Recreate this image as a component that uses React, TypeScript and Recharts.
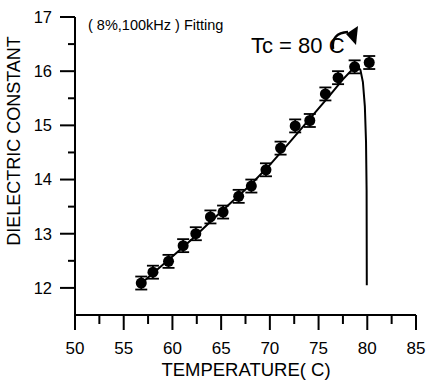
import {
  ComposedChart, Scatter, XAxis, YAxis, ErrorBar,
} from 'recharts';

const temps = [56.8, 58.0, 59.6, 61.1, 62.4, 63.9, 65.2, 66.8, 68.1, 69.6, 71.1, 72.6, 74.1, 75.7, 77.0, 78.7, 80.2];
const values = [12.09, 12.29, 12.49, 12.78, 13.0, 13.31, 13.4, 13.69, 13.88, 14.18, 14.58, 14.99, 15.09, 15.58, 15.88, 16.08, 16.16];
const errors = [0.12, 0.12, 0.12, 0.12, 0.12, 0.12, 0.12, 0.12, 0.12, 0.12, 0.12, 0.12, 0.12, 0.12, 0.12, 0.12, 0.12];

const fitTemps = [56.8, 58, 60, 62, 64, 66, 68, 70, 72, 74, 76, 77.5, 78.5, 79.0, 79.3, 79.55, 79.75, 79.87, 79.93, 79.95];
const fitValues = [12.08, 12.27, 12.58, 12.9, 13.24, 13.57, 13.9, 14.27, 14.68, 15.1, 15.52, 15.85, 16.04, 16.1, 16.02, 15.8, 15.35, 14.7, 13.8, 12.05];

const xTicks = [50, 52.5, 55, 57.5, 60, 62.5, 65, 67.5, 70, 72.5, 75, 77.5, 80, 82.5, 85];
const yTicks = [12, 12.5, 13, 13.5, 14, 14.5, 15, 15.5, 16, 16.5, 17];

const FONT = '"Liberation Sans", Arial, sans-serif';

const points = temps.map((t, i) => ({ t, v: values[i], err: errors[i] }));
const fit = fitTemps.map((t, i) => ({ t, v: fitValues[i] }));

function XTick({ x, y, payload }: any) {
  const major = payload.value % 5 === 0;
  return (
    <g>
      <line x1={x} x2={x} y1={y} y2={y + (major ? 15 : 9)} stroke="#000" strokeWidth={2} />
      {major && (
        <text x={x} y={y + 39} textAnchor="middle" fontSize={17} fontFamily={FONT} fill="#000">
          {payload.value}
        </text>
      )}
    </g>
  );
}

function YTick({ x, y, payload }: any) {
  const major = payload.value % 1 === 0;
  return (
    <g>
      <line x1={x} x2={x - (major ? 15 : 7)} y1={y} y2={y} stroke="#000" strokeWidth={2} />
      {major && (
        <text x={x - 23} y={y} dy="0.36em" textAnchor="end" fontSize={16.5} fontFamily={FONT} fill="#000">
          {payload.value}
        </text>
      )}
    </g>
  );
}

function Dot({ cx, cy }: any) {
  return <circle cx={cx} cy={cy} r={5.5} fill="#000" />;
}

export default function App() {
  return (
    <div style={{ position: 'absolute', left: 0, top: 0, width: 427, height: 380, background: '#fff' }}>
      <ComposedChart width={427} height={380} margin={{ top: 17, right: 11, left: 0, bottom: 0 }}>
        <XAxis
          dataKey="t"
          type="number"
          domain={[50, 85]}
          ticks={xTicks}
          interval={0}
          allowDataOverflow
          height={65}
          tickSize={0}
          tickMargin={0}
          tickLine={false}
          tick={<XTick />}
          axisLine={{ stroke: '#000', strokeWidth: 2 }}
        />
        <YAxis
          dataKey="v"
          type="number"
          domain={[11.5, 17]}
          ticks={yTicks}
          interval={0}
          allowDataOverflow
          width={75}
          tickSize={0}
          tickMargin={0}
          tickLine={false}
          tick={<YTick />}
          axisLine={{ stroke: '#000', strokeWidth: 2 }}
        />
        <Scatter
          data={fit}
          line={{ stroke: '#000', strokeWidth: 2 }}
          lineType="joint"
          shape={() => <g />}
          isAnimationActive={false}
        />
        <Scatter data={points} shape={<Dot />} isAnimationActive={false}>
          <ErrorBar dataKey="err" direction="y" width={6} stroke="#000" strokeWidth={1.8} />
        </Scatter>
      </ComposedChart>
      <svg width={427} height={380} style={{ position: 'absolute', left: 0, top: 0, pointerEvents: 'none' }}>
        <text x={88} y={30} fontSize={14.5} fontFamily={FONT} fill="#000">( 8%,100kHz ) Fitting</text>
        <text x={251} y={53} fontSize={22} fontFamily={FONT} fill="#000">Tc = 80 C</text>
        <path d="M333,49 Q331,33 348,32" stroke="#000" strokeWidth={2.5} fill="none" />
        <polygon points="346,34 358,26 356,45" fill="#000" />
        <text x={246} y={376} textAnchor="middle" fontSize={18.5} fontFamily={FONT} fill="#000">TEMPERATURE( C)</text>
        <text
          x={0}
          y={0}
          transform="translate(20,141) rotate(-90)"
          textAnchor="middle"
          fontSize={18}
          fontFamily={FONT}
          fill="#000"
        >
          DIELECTRIC CONSTANT
        </text>
      </svg>
    </div>
  );
}
